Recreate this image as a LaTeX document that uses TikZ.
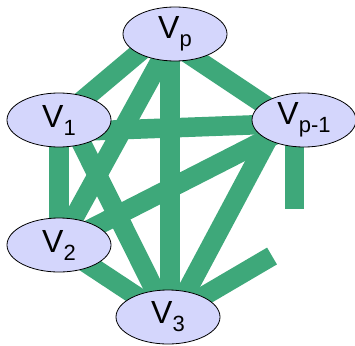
\documentclass[tikz,border=0pt]{standalone}
\usepackage{fontspec}
\setmainfont{Liberation Sans}
\usetikzlibrary{shapes.geometric,backgrounds}
\definecolor{edgegreen}{RGB}{62,168,122}
\definecolor{nodeblue}{RGB}{212,214,252}
\newcommand{\vname}[1]{V\raisebox{-8pt}{\fontsize{22}{22}\selectfont #1}}
\begin{document}
\begin{tikzpicture}[x=1pt,y=-1pt,
  vertex/.style={ellipse,draw=black,line width=0.8pt,fill=nodeblue,
    minimum width=104pt,minimum height=54pt,inner sep=0pt,
    font=\fontsize{32}{32}\selectfont},
  link/.style={draw=edgegreen,line width=19.5pt}]
\useasboundingbox (0,0) rectangle (355,345);
\node[vertex] (vp) at (175,34) {\vname{p}};
\node[vertex] (v1) at (59,120) {\vname{1}};
\node[vertex] (vq) at (304,120) {\vname{p-1}};
\node[vertex] (v2) at (59,245) {\vname{2}};
\node[vertex] (v3) at (168,317) {\vname{3}};
\coordinate (stubdown) at (294.5,209);
\coordinate (stubright) at (272,256);
\begin{pgfonlayer}{background}
\draw[link] (v1.center) -- ([shift={(-21,6)}]vp.center);
\draw[link] (vp.center) -- (v2.center);
\draw[link] ([xshift=-5]vp.center) -- ([xshift=2]v3.center);
\draw[link] ([shift={(0,11)}]vp.center) -- ([shift={(0,11)}]vq.center);
\draw[link] ([yshift=-12]v1.center) -- ([yshift=-3]vq.center);
\draw[link] ([xshift=11]v1.center) -- (v3.center);
\draw[link] (v2.center) -- (vq.center);
\draw[link] ([xshift=5]v3.center) -- ([xshift=-26]vq.center);
\draw[link] (v1.center) -- (v2.center);
\draw[link] (v2.center) -- (v3.center);
\draw[link] (stubdown |- vq.center) -- (stubdown);
\draw[link] (v3.center) -- (stubright);
\end{pgfonlayer}
\end{tikzpicture}
\end{document}
